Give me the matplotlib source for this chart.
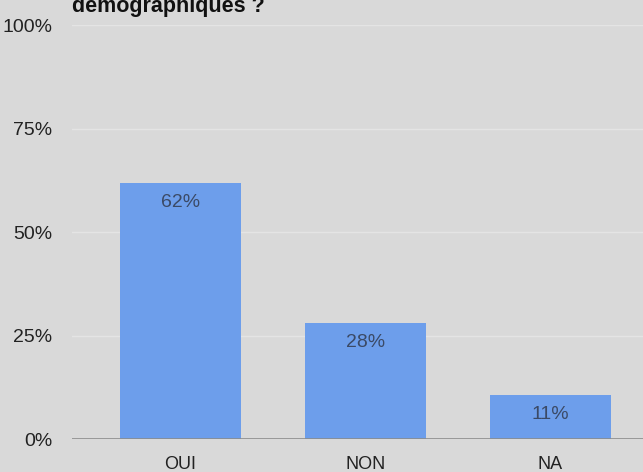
import matplotlib
matplotlib.use("Agg")
import matplotlib.pyplot as plt

categories = ["OUI", "NON", "NA"]
values = [61.8, 27.9, 10.6]
labels = ["62%", "28%", "11%"]
yticks = [0, 25, 50, 75, 100]
title = "Utilisez-vous des données\ndémographiques ?"

bg = "#d9d9d9"
font = "Liberation Sans"
fig = plt.figure(figsize=(6.43, 4.72), dpi=100, facecolor=bg)
ax = fig.add_axes([72 / 643, 33 / 472, 1 - 72 / 643, 414 / 472])
ax.set_facecolor(bg)

x = range(len(categories))
ax.bar(x, values, width=0.65, color="#6d9eeb", zorder=2)
for i, (v, lab) in enumerate(zip(values, labels)):
    ax.text(i, v - 2.6, lab, ha="center", va="top", fontsize=14,
            family=font, color="#3b4a66", zorder=3)

ax.set_xlim(-0.586, 2.5)
ax.set_ylim(0, 100)
ax.set_yticks(yticks)
ax.set_yticklabels([f"{t}%" for t in yticks], family=font, fontsize=14, color="#222222")
ax.set_xticks(list(x))
ax.set_xticklabels(categories, family=font, fontsize=13, color="#222222")
ax.tick_params(length=0)
ax.tick_params(axis="y", pad=14)
ax.tick_params(axis="x", pad=12)
ax.grid(axis="y", color="#e4e4e4", linewidth=1, zorder=0)
ax.axhline(0, color="#8c8c8c", linewidth=1.2, zorder=3)
for s in ax.spines.values():
    s.set_visible(False)

fig.text(72 / 643, 1 - 12 / 472, title, ha="left", va="baseline",
         fontsize=15.5, fontweight="bold", family=font, color="#111111")

fig.savefig("out.png", dpi=100, facecolor=bg)
